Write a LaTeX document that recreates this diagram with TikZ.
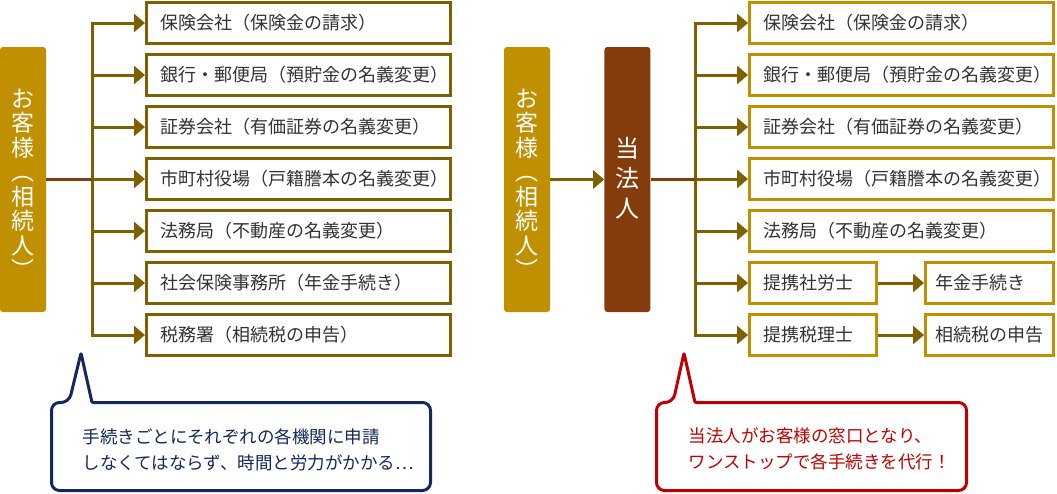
\documentclass[tikz,border=0pt]{standalone}
\usepackage{fontspec}
\setmainfont{Noto Sans CJK JP}
\usetikzlibrary{positioning, arrows.meta}
\definecolor{kyakugold}{HTML}{C09000}
\definecolor{houjinbrown}{HTML}{843C0C}
\definecolor{sendark}{HTML}{7F6000}
\definecolor{navy}{HTML}{13295B}
\definecolor{akared}{HTML}{C00000}
\definecolor{moji}{HTML}{333333}

\begin{document}
\begin{tikzpicture}[x=1pt, y=-1pt,
    >={Triangle[length=11pt, width=18pt]},
    font=\fontsize{18}{21}\selectfont,
    hashira/.style={rounded corners=3pt, minimum width=46pt, minimum height=265pt, inner sep=0pt},
    tate/.style={text=white, align=center, inner sep=0pt, font=\fontsize{23}{24.5}\selectfont},
    kikan/.style={draw=sendark, line width=3pt, fill=white, text=moji, anchor=west, align=left,
                  text width=277pt, inner xsep=13.5pt, minimum height=41pt},
    kikanR/.style={kikan, draw=kyakugold},
    sen/.style={draw=sendark, line width=3pt},
    yaji/.style={sen, ->},
    tsunagi/.style={draw=houjinbrown, line width=3pt},
    fukidashi/.style={line width=3pt, fill=white, rounded corners=8pt, line join=round},
    serifu/.style={anchor=west, align=left, font=\fontsize{17.5}{26}\selectfont}
  ]
    \useasboundingbox (0,0) rectangle (1057,493);

    % --- Left: customer applies everywhere by himself ---
    \node[hashira, fill=kyakugold] (kyaku1) at (23,179.5) {};
    \node[tate] (kyaku1txt) at (23,184) {お\\客\\様\\︵\\相\\続\\人\\︶};
    \coordinate (mikiL) at (92,0);

    \foreach \i/\txt in {1/保険会社（保険金の請求）, 2/銀行・郵便局（預貯金の名義変更）,
                         3/証券会社（有価証券の名義変更）, 4/市町村役場（戸籍謄本の名義変更）,
                         5/法務局（不動産の名義変更）, 6/社会保険事務所（年金手続き）,
                         7/税務署（相続税の申告）} {
      \node[kikan] (kL\i) at (145,{23+52*(\i-1)}) {\mbox{\txt}};
      \draw[yaji] (kL\i.west -| mikiL) -- (kL\i.west);
    }
    \draw[sen, line cap=rect] (kL1.west -| mikiL) -- (kL7.west -| mikiL);
    \draw[tsunagi] (kyaku1.east) -- (kyaku1.east -| mikiL);

    % --- Right: one stop through the firm ---
    \node[hashira, fill=kyakugold] (kyaku2) at (527,179.5) {};
    \node[tate] (kyaku2txt) at (527,184) {お\\客\\様\\︵\\相\\続\\人\\︶};
    \node[hashira, fill=houjinbrown, right=54pt of kyaku2] (houjin) {};
    \node[tate, font=\fontsize{24}{30}\selectfont] (houjintxt) at ([yshift=1pt]houjin.center) {当\\法\\人};
    \draw[yaji] (kyaku2.east) -- (houjin.west);
    \coordinate (mikiR) at (695,0);

    \foreach \i/\txt in {1/保険会社（保険金の請求）, 2/銀行・郵便局（預貯金の名義変更）,
                         3/証券会社（有価証券の名義変更）, 4/市町村役場（戸籍謄本の名義変更）,
                         5/法務局（不動産の名義変更）} {
      \node[kikanR] (kR\i) at (748,{23+52*(\i-1)}) {\mbox{\txt}};
      \draw[yaji] (kR\i.west -| mikiR) -- (kR\i.west);
    }
    \node[kikanR, text width=99pt, inner xsep=14pt] (kR6) at (748,283) {提携社労士};
    \node[kikanR, text width=108pt, inner xsep=10pt] (nenkin) at (924,283) {年金手続き};
    \node[kikanR, text width=99pt, inner xsep=14pt] (kR7) at (748,335) {提携税理士};
    \node[kikanR, text width=108pt, inner xsep=10pt] (souzoku) at (924,335) {相続税の申告};
    \foreach \i in {6,7}
      \draw[yaji] (kR\i.west -| mikiR) -- (kR\i.west);
    \draw[yaji] (kR6) -- (nenkin);
    \draw[yaji] (kR7) -- (souzoku);
    \draw[sen, line cap=rect] (kR1.west -| mikiR) -- (kR7.west -| mikiR);
    \draw[tsunagi] (houjin.east) -- (houjin.east -| mikiR);

    % --- Speech bubbles ---
    \draw[fukidashi, draw=navy] (92,402.5) -- (430.5,402.5) -- (430.5,490.5) -- (51.5,490.5)
      -- (51.5,402.5) -- (69,402.5) [rounded corners=1pt] -- (81,353) -- cycle;
    \node[serifu, text=navy] (kuro) at (79,450)
      {手続きごとにそれぞれの各機関に申請\\しなくてはならず、時間と労力がかかる…};

    \draw[fukidashi, draw=akared] (695,402.5) -- (966.5,402.5) -- (966.5,490.5) -- (656.5,490.5)
      -- (656.5,402.5) -- (673,402.5) [rounded corners=1pt] -- (684,353) -- cycle;
    \node[serifu, text=akared] (raku) at (685,449)
      {当法人がお客様の窓口となり、\\ワンストップで各手続きを代行！};

\end{tikzpicture}
\end{document}
